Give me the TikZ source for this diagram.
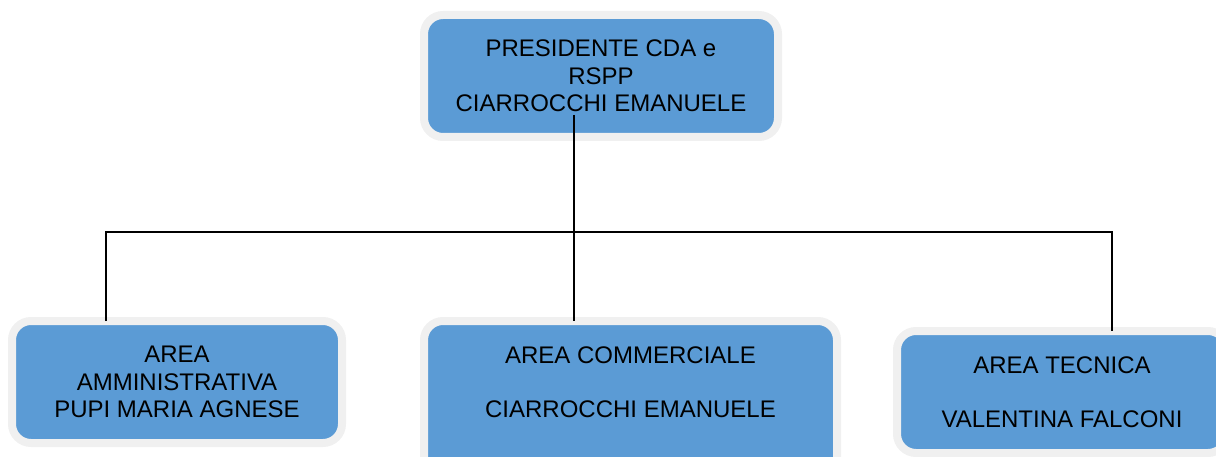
\documentclass[tikz,border=0pt]{standalone}
\usepackage{fontspec}
\setmainfont{Liberation Sans}
\usetikzlibrary{positioning}
\definecolor{boxblue}{RGB}{91,155,213}
\definecolor{rimgray}{RGB}{240,240,240}
\tikzset{box/.style={rectangle, rounded corners=19pt, fill=boxblue, draw=rimgray, line width=8pt, inner sep=0pt, outer sep=0pt},
         boxtext/.style={align=center, inner sep=0pt, font=\fontsize{24}{27.5}\selectfont},
         link/.style={black, line width=1.6pt}}

\begin{document}
\begin{tikzpicture}[x=1pt,y=-1pt]
   \useasboundingbox (0,0) rectangle (1216,457);
   % boxes
   \node[box, boxtext, minimum width=354pt, minimum height=122pt] (pres) at (601,76)
        {PRESIDENTE CDA e\\RSPP\\CIARROCCHI EMANUELE};
   \node[box, boxtext, minimum width=330pt, minimum height=122pt] (amm) at (177,382)
        {AREA\\AMMINISTRATIVA\\PUPI MARIA AGNESE};
   \node[box, minimum width=413pt, minimum height=170pt, anchor=north] (comm) at (630.5,321) {};
   \node[boxtext] (commtxt) at (630.5,382.5)
        {AREA COMMERCIALE\\[26.5pt]CIARROCCHI EMANUELE};
   \node[box, boxtext, minimum width=330pt, minimum height=122pt] (tec) at (1062,392)
        {AREA TECNICA\\[26.5pt]VALENTINA FALCONI};
   % connectors
   \coordinate (stem) at (574,115);
   \coordinate (bus) at (574,232);
   \draw[link] (stem) -- (bus);
   \draw[link] ([xshift=-71pt]amm.north) |- (bus) -| ([xshift=50pt]tec.north);
   \draw[link] (bus) -- ([xshift=-56.5pt]comm.north);
\end{tikzpicture}
\end{document}
